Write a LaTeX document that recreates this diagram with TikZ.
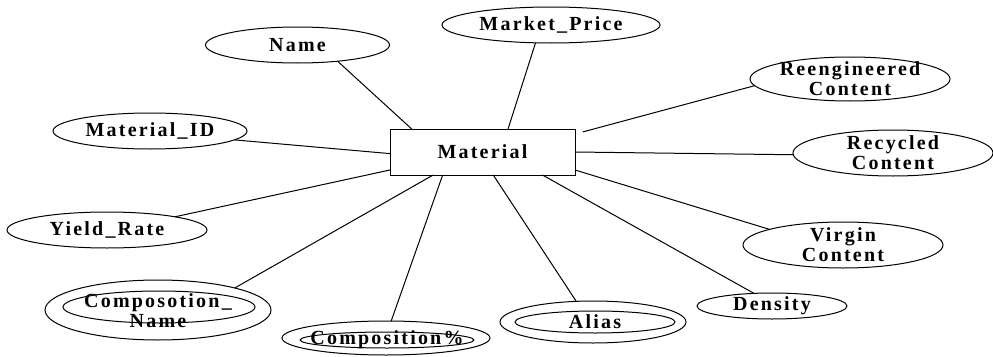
\documentclass[tikz,border=0pt]{standalone}
\usepackage{fontspec}
\setmainfont{Liberation Serif}[LetterSpace=11]
\usetikzlibrary{shapes.geometric}
\begin{document}
\begin{tikzpicture}[x=1pt,y=-1pt,
  every node/.style={font=\fontsize{20}{20}\selectfont\bfseries},
  attr/.style={ellipse, draw, line width=1pt, inner sep=0pt, outer sep=0pt},
  lbl/.style={align=center, inner sep=0pt},
  entity/.style={rectangle, draw, line width=1pt, fill=white,
    minimum width=185pt, minimum height=46pt, inner sep=0pt, outer sep=0pt},
  link/.style={line width=1pt}]
\useasboundingbox (0,0) rectangle (993,356);

% entity
\node[entity] (mat) at (482.5,152) {Material};

% simple attributes
\node[attr, minimum width=184, minimum height=36,
  label={[lbl]center:Name}] (name) at (297.5,45) {};
\node[attr, minimum width=218, minimum height=36,
  label={[lbl]center:Market\_Price}] (mprice) at (551,25) {};
\node[attr, minimum width=194, minimum height=36,
  label={[lbl]center:Material\_ID}] (matid) at (150,131) {};
\node[attr, minimum width=200, minimum height=44,
  label={[lbl]center:{Reengineered\\Content}}] (reeng) at (850,79) {};
\node[attr, minimum width=200, minimum height=46,
  label={[lbl]center:{Recycled\\Content}}] (recyc) at (893,153) {};
\node[attr, minimum width=200, minimum height=46,
  label={[lbl]center:{Virgin\\Content}}] (virgin) at (843,245) {};
\node[attr, minimum width=150, minimum height=26,
  label={[lbl]center:Density}] (density) at (772,306) {};
\node[attr, minimum width=200, minimum height=36,
  label={[lbl]center:Yield\_Rate}] (yield) at (107,230) {};

% multivalued attributes (double ellipses)
\node[attr, minimum width=186, minimum height=42] (aliaso) at (593,322) {};
\node[attr, minimum width=160, minimum height=22,
  label={[lbl]center:Alias}] (aliasi) at (595,322) {};
\node[attr, minimum width=208, minimum height=34] (pcto) at (386,338) {};
\node[attr, minimum width=174, minimum height=16,
  label={[lbl]center:Composition\%}] (pcti) at (387,340) {};
\node[attr, minimum width=226, minimum height=60] (cnameo) at (158,310) {};
\node[attr, minimum width=192, minimum height=32] (cnamei) at (159,307) {};
\node[lbl] (cnametxt) at (158,311) {Composotion\_\\Name};

% connectors
\draw[link] (name.-22.8) -- (mat.162.4);
\draw[link] (mprice.229.6) -- (mat.42);
\draw[link] (matid.-6.9) -- (mat.181);
\draw[link, shorten <=8pt] (mat.11) -- (reeng.184.7);
\draw[link] (mat.0) -- (recyc.181);
\draw[link] (mat.-11) -- (virgin.168.4);
\draw[link] (mat.-21.8) -- (density.145.6);
\draw[link] (mat.-65.5) -- (aliaso.129);
\draw[link] (mat.-150.4) -- (pcto.73);
\draw[link] (mat.-155.5) -- (cnameo.16);
\draw[link] (mat.191) -- (yield.11.2);
\end{tikzpicture}
\end{document}
